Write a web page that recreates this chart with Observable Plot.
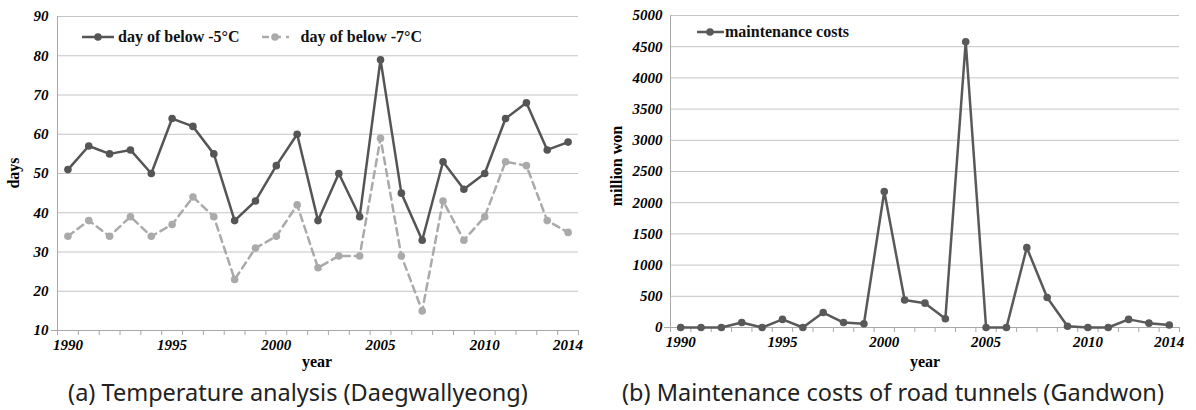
<!DOCTYPE html>
<html>
<head>
<meta charset="utf-8">
<script src="https://cdn.jsdelivr.net/npm/d3@7"></script>
<script src="https://cdn.jsdelivr.net/npm/@observablehq/plot@0.6"></script>
<style>
  html, body { margin: 0; padding: 0; background: #fff; }
  #wrap { position: relative; width: 1196px; height: 410px; overflow: hidden; }
  .panel { position: absolute; top: 0; }
  .panel svg text { font-family: "Liberation Serif", serif !important; font-weight: bold !important; font-style: italic !important; font-size: 15px !important; fill: #000 !important; }
  .lbl { position: absolute; font-family: "Liberation Serif", serif; font-weight: bold; font-size: 16px; color: #000; white-space: nowrap; }
  .rot { transform: translate(-50%, -50%) rotate(-90deg); }
  .cap { position: absolute; font-family: "Noto Sans", sans-serif; font-size: 23.5px; color: #222; white-space: nowrap; transform: translateX(-50%); }
  .legend { position: absolute; font-family: "Liberation Serif", serif; font-weight: bold; font-size: 16px; color: #111; white-space: nowrap; display: flex; align-items: center; }
  .legend svg { display: block; }
</style>
</head>
<body>
<div id="wrap">
  <div class="panel" id="left" style="left:0"></div>
  <div class="panel" id="right" style="left:598px"></div>

  <div class="legend" style="left:82px; top:28px;">
    <svg width="33" height="16"><line x1="0" y1="8" x2="32" y2="8" stroke="#555" stroke-width="2.5"/><circle cx="16" cy="8" r="3.8" fill="#555"/></svg>
    <span style="margin-left:3px">day of below -5°C</span>
    <svg width="30" height="16" style="margin-left:22px"><line x1="0" y1="8" x2="27" y2="8" stroke="#aaa" stroke-width="2.5" stroke-dasharray="7,5"/><circle cx="13" cy="8" r="3.8" fill="#aaa"/></svg>
    <span style="margin-left:9px">day of below -7°C</span>
  </div>
  <div class="legend" style="left:697px; top:23px;">
    <svg width="28" height="16"><line x1="0" y1="8" x2="27" y2="8" stroke="#595959" stroke-width="2.5"/><circle cx="13" cy="8" r="3.8" fill="#595959"/></svg>
    <span>maintenance costs</span>
  </div>

  <div class="lbl rot" style="left:14px; top:173px;">days</div>
  <div class="lbl" style="left:317px; top:362px; transform:translate(-50%,-50%);">year</div>
  <div class="lbl rot" style="left:617px; top:166px;">million won</div>
  <div class="lbl" style="left:925px; top:362px; transform:translate(-50%,-50%);">year</div>

  <div class="cap" style="left:298px; top:376px;">(a) Temperature analysis (Daegwallyeong)</div>
  <div class="cap" style="left:893px; top:376px;">(b) Maintenance costs of road tunnels (Gandwon)</div>
</div>
<script>
// ---- data ----
const years = [1990,1991,1992,1993,1994,1995,1996,1997,1998,1999,2000,2001,2002,2003,2004,2005,2006,2007,2008,2009,2010,2011,2012,2013,2014];
const daysBelow5 = [51,57,55,56,50,64,62,55,38,43,52,60,38,50,39,79,45,33,53,46,50,64,68,56,58];
const daysBelow7 = [34,38,34,39,34,37,44,39,23,31,34,42,26,29,29,59,29,15,43,33,39,53,52,38,35];
const maintenanceCosts = [0,0,0,80,0,130,0,240,80,60,2180,440,390,140,4580,0,0,1280,480,20,0,0,130,70,40];
const yearTickLabels = [1990,1995,2000,2005,2010,2014];
const daysTicks = [10,20,30,40,50,60,70,80,90];
const costTicks = [0,500,1000,1500,2000,2500,3000,3500,4000,4500,5000];

const t5 = years.map((y,i) => ({year: y, v: daysBelow5[i]}));
const t7 = years.map((y,i) => ({year: y, v: daysBelow7[i]}));
const tc = years.map((y,i) => ({year: y, v: maintenanceCosts[i]}));
const bounds = d3.range(years.length + 1).map(i => years[0] - 0.5 + i);

const axisGray = "#a8a8a8";
const gridGray = "#c4c4c4";

function chart({width, height, ml, mr, mt, mb, ydomain, yticks, series, ypad}) {
  return Plot.plot({
    width, height,
    marginLeft: ml, marginRight: mr, marginTop: mt, marginBottom: mb,
    style: {background: "transparent", overflow: "visible"},
    x: {domain: [years[0] - 0.5, years[years.length - 1] + 0.5]},
    y: {domain: ydomain},
    marks: [
      Plot.gridY(yticks.slice(1), {stroke: gridGray, strokeOpacity: 1, strokeWidth: 1}),
      Plot.ruleY([ydomain[0]], {stroke: axisGray, strokeWidth: 1}),
      Plot.ruleX([years[0] - 0.5], {stroke: axisGray, strokeWidth: 1}),
      Plot.axisY(yticks, {tickSize: 0, tickPadding: ypad, label: null, tickFormat: d => String(d)}),
      Plot.axisY([ydomain[0]], {tickSize: 6, stroke: axisGray, strokeOpacity: 1, label: null, tickFormat: () => ""}),
      Plot.axisX(bounds, {tickSize: 5, stroke: axisGray, strokeOpacity: 1, label: null, tickFormat: () => ""}),
      Plot.axisX(yearTickLabels, {tickSize: 0, tickPadding: 9, label: null, tickFormat: d => String(d)}),
      ...series
    ]
  });
}

const left = chart({
  width: 598, height: 375, ml: 57, mr: 20, mt: 16, mb: 45,
  ydomain: [10, 90], yticks: daysTicks, ypad: 9,
  series: [
    Plot.lineY(t7, {x: "year", y: "v", stroke: "#aaaaaa", strokeWidth: 2.5, strokeDasharray: "7,5"}),
    Plot.dot(t7, {x: "year", y: "v", r: 3.8, fill: "#aaaaaa"}),
    Plot.lineY(t5, {x: "year", y: "v", stroke: "#555555", strokeWidth: 2.5}),
    Plot.dot(t5, {x: "year", y: "v", r: 3.8, fill: "#555555"})
  ]
});
document.getElementById("left").appendChild(left);

const right = chart({
  width: 598, height: 375, ml: 72, mr: 17, mt: 15, mb: 48,
  ydomain: [0, 5000], yticks: costTicks, ypad: 8,
  series: [
    Plot.lineY(tc, {x: "year", y: "v", stroke: "#595959", strokeWidth: 2.5}),
    Plot.dot(tc, {x: "year", y: "v", r: 3.8, fill: "#595959"})
  ]
});
document.getElementById("right").appendChild(right);
</script>
</body>
</html>
